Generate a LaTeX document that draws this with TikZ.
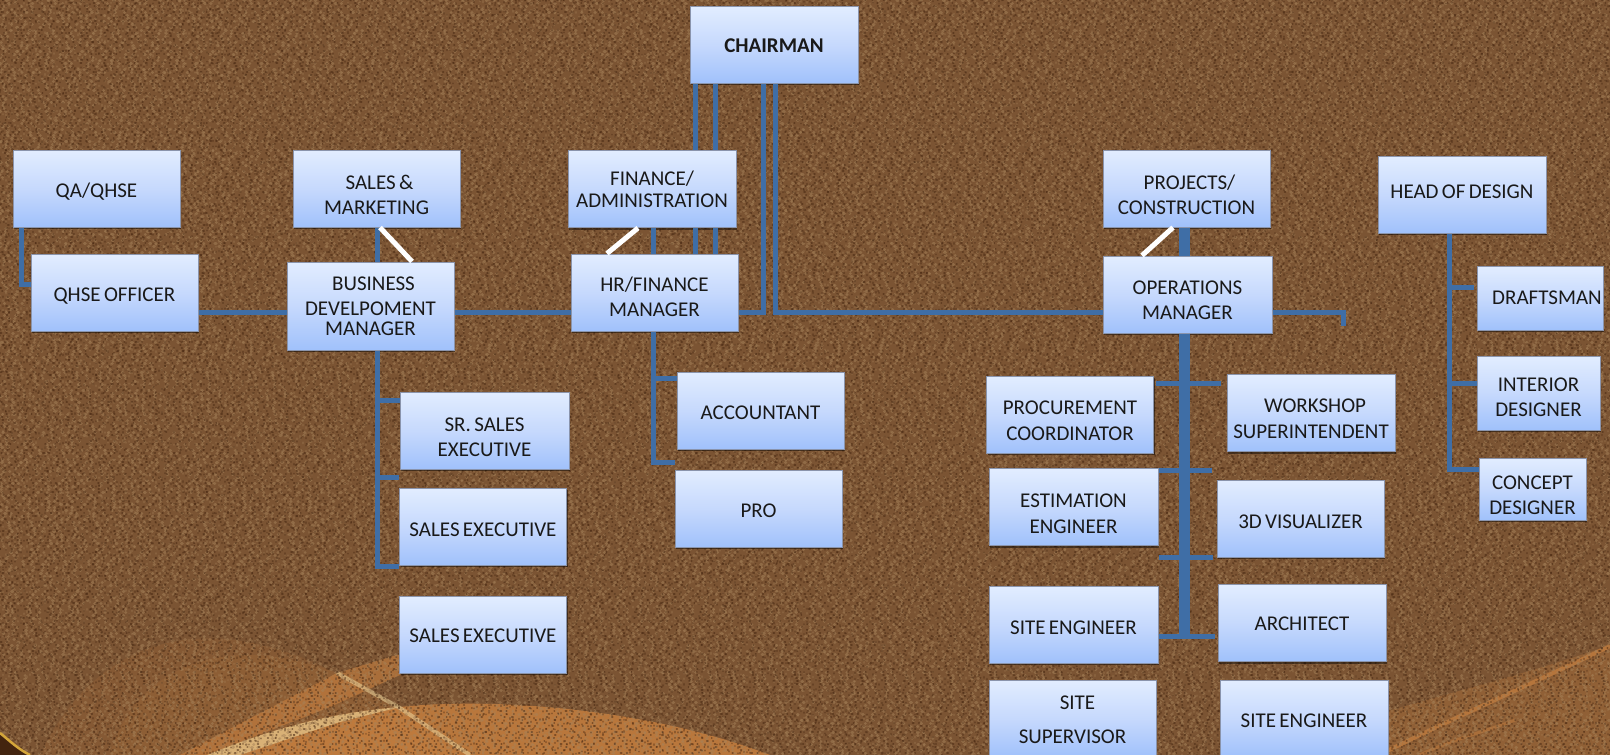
\documentclass[tikz,border=0pt]{standalone}
\usepackage{fontspec}
\setmainfont{Carlito}[WordSpace=0.7]
\usetikzlibrary{positioning,calc,shadows}
\definecolor{bgbrown}{HTML}{7B5433}
\definecolor{speckdark}{HTML}{43240F}
\definecolor{specklight}{HTML}{A68259}
\definecolor{waveorange}{HTML}{CF8440}
\definecolor{wavepale}{HTML}{E8CF96}
\definecolor{arcgold}{HTML}{D4A63A}
\definecolor{boxtop}{HTML}{E2EDFF}
\definecolor{boxmid}{HTML}{C6D9FD}
\definecolor{boxbot}{HTML}{A0C1FB}
\definecolor{boxedge}{HTML}{8A94AC}
\definecolor{linkblue}{HTML}{3F6EA6}
\newcommand{\orgfont}{\fontsize{21}{25}\selectfont}
\newcommand{\tdown}[1]{\rule{0pt}{#1pt}}
\tikzset{
  orgbox/.style={rectangle,draw=boxedge,line width=1pt,inner sep=0pt,align=center,
    minimum width=167pt,minimum height=77pt,font=\orgfont,text=black!90,
    top color=boxtop,bottom color=boxbot,middle color=boxmid,
    drop shadow={shadow xshift=1pt,shadow yshift=-2pt,fill=black,opacity=.45}},
  tup/.style={execute at begin node={\rule[-#1pt]{0pt}{1pt}}},
  link/.style={draw=linkblue,line width=5pt},
  mainlink/.style={draw=linkblue,line width=11pt},
  whitelink/.style={draw=white,line width=5pt},
  speck/.style={line cap=round,dash pattern=on 0.6pt off 7pt on 0.2pt off 11pt on 1.2pt off 5pt on 0.4pt off 17pt on 0.8pt off 9pt on 0.1pt off 13pt},
}
\begin{document}
\begin{tikzpicture}[x=1pt,y=-1pt]
    \useasboundingbox (0,0) rectangle (1610,755);
    \clip (0,0) rectangle (1610,755);

    % background
    \fill[bgbrown] (0,0) rectangle (1610,755);
    \fill[waveorange,opacity=.12] (40,755) .. controls (90,650) and (190,600) .. (337,673) -- (400,708) -- (460,755) -- cycle;
    \fill[waveorange,opacity=.12] (110,755) .. controls (130,680) and (210,625) .. (337,673) -- (400,708) -- (460,755) -- cycle;
    \fill[waveorange,opacity=.55] (180,755) -- (337,673) -- (400,654) -- (400,675) -- (330,707) -- (207,755) -- cycle;
    \fill[waveorange,opacity=.75] (207,755) .. controls (280,725) and (340,712) .. (400,707) .. controls (480,698) and (640,705) .. (770,755) -- cycle;
    \fill[wavepale,opacity=.65] (207,755) .. controls (280,725) and (340,712) .. (400,707) -- (340,722) .. controls (300,735) and (270,745) .. (240,755) -- cycle;
    \draw[wavepale,opacity=.6,line width=4pt] (337,673) -- (400,708) -- (470,755);
    \fill[waveorange,opacity=.25] (1385,712) .. controls (1460,690) and (1540,670) .. (1610,645) -- (1610,755) -- (1385,755) -- cycle;
    \draw[waveorange,opacity=.6,line width=4pt] (1385,752) .. controls (1460,715) and (1540,680) .. (1610,646);
    \draw[waveorange,opacity=.4,line width=3pt] (1420,755) .. controls (1450,740) and (1490,730) .. (1515,720);
    \pgfmathsetseed{42}
    \foreach \y in {0,3,...,754}{
      \pgfmathsetmacro{\pa}{150*rnd}
      \pgfmathsetmacro{\pb}{150*rnd}
      \draw[speck,specklight,opacity=.5,line width=3pt,dash phase=\pa pt] (0,\y) -- (1610,\y);
      \draw[speck,speckdark,opacity=.5,line width=1.8pt,dash phase=\pb pt] (0,\y) -- (1610,\y);
    }
    \foreach \x in {0,3,...,1609}{
      \pgfmathsetmacro{\pa}{150*rnd}
      \pgfmathsetmacro{\pb}{150*rnd}
      \draw[speck,specklight,opacity=.3,line width=2.4pt,dash phase=\pa pt] (\x,0) -- (\x,755);
      \draw[speck,speckdark,opacity=.35,line width=1.8pt,dash phase=\pb pt] (\x,0) -- (\x,755);
    }
    \fill[speckdark] (0,733) .. controls (10,740) and (20,748) .. (30,755) -- (0,755) -- cycle;
    \draw[arcgold,line width=2.5pt] (0,733) .. controls (10,741) and (18,749) .. (30,755);

    % top row
    \node[orgbox,minimum width=168pt] (CH) at (774,44.5) {\tdown{15.5}\textbf{CHAIRMAN}};
    \node[orgbox] (QA) at (96.5,188.5) {\tdown{20}QA/QHSE};
    \node[orgbox] (SM) at (376.5,188.5) {\tdown{27}\hspace*{6pt}SALES \&\\MARKETING};
    \node[orgbox,minimum width=168pt] (FA) at (652,189) {\tdown{16}FINANCE/\\[-3pt]ADMINISTRATION};
    \node[orgbox] (PR) at (1186.5,188.5) {\tdown{28}\hspace*{6pt}PROJECTS/\\CONSTRUCTION};
    \node[orgbox,tup=6,minimum width=168pt] (HD) at (1462,194.5) {HEAD OF DESIGN};

    % manager row
    \node[orgbox] (QH) at (114.5,292.5) {\tdown{20}QHSE OFFICER};
    \node[orgbox,minimum height=88pt] (BD) at (370.5,306) {\hspace*{6pt}BUSINESS\\DEVELPOMENT\\[-5pt]MANAGER};
    \node[orgbox] (HR) at (654.5,292.5) {\tdown{24}HR/FINANCE\\MANAGER};
    \node[orgbox,minimum width=169pt] (OP) at (1187.5,294.5) {\tdown{26}OPERATIONS\\MANAGER};

    % staff
    \node[orgbox,minimum width=169pt] (SS) at (484.5,430.5) {\tdown{27}SR. SALES\\EXECUTIVE};
    \node[orgbox] (SE1) at (483,526.5) {\tdown{20}SALES EXECUTIVE};
    \node[orgbox] (SE2) at (483,634.5) {\tdown{16}SALES EXECUTIVE};
    \node[orgbox] (AC) at (760.5,410.5) {\tdown{18}ACCOUNTANT};
    \node[orgbox] (PO) at (758.5,508.5) {\tdown{18}PRO};
    \node[orgbox] (PC) at (1070,414.5) {\tdown{26}PROCUREMENT\\[1pt]COORDINATOR};
    \node[orgbox,minimum width=168pt] (WS) at (1311,413) {\tdown{25}\hspace*{8pt}WORKSHOP\\[1pt]SUPERINTENDENT};
    \node[orgbox,minimum width=169pt] (ES) at (1073.5,507) {\tdown{28}ESTIMATION\\[1pt]ENGINEER};
    \node[orgbox] (VZ) at (1300.5,518.5) {\tdown{20}3D VISUALIZER};
    \node[orgbox,minimum width=169pt] (SE3) at (1073.5,624.5) {\tdown{20}SITE ENGINEER};
    \node[orgbox,minimum width=168pt] (AR) at (1302,623) {\tdown{16}ARCHITECT};
    \node[orgbox] (SV) at (1072.5,718.5) {\tdown{17}\hspace*{10pt}SITE\\[9pt]SUPERVISOR};
    \node[orgbox,minimum width=168pt] (SE4) at (1304,718.5) {\tdown{18}SITE ENGINEER};
    \node[orgbox,minimum width=126pt,minimum height=64pt] (DF) at (1540,298) {\hspace*{14pt}DRAFTSMAN};
    \node[orgbox,minimum width=123pt,minimum height=74pt] (ID) at (1538.5,393) {\tdown{23}INTERIOR\\DESIGNER};
    \node[orgbox,minimum width=107pt,minimum height=62pt] (CD) at (1532.5,489) {\tdown{27}CONCEPT\\DESIGNER};

    % guides for the connectors
    \coordinate (M) at (0,312);      % main horizontal
    \coordinate (XQ) at (21,0);
    \coordinate (XS) at (377,0);
    \coordinate (XH) at (653,0);
    \coordinate (XA) at (695,0);
    \coordinate (XB) at (715,0);
    \coordinate (XC) at (763,0);
    \coordinate (XD) at (775,0);
    \coordinate (XO) at (1184,0);
    \coordinate (XE) at (1343,0);
    \coordinate (XG) at (1449,0);
    \coordinate (T1) at (0,383);
    \coordinate (T2) at (0,470);
    \coordinate (T3) at (0,557);
    \coordinate (T4) at (0,636);

    % chairman down
    \draw[link] (XA |- CH.south) -- (XA |- FA.north);
    \draw[link] (XB |- CH.south) -- (XB |- FA.north);
    \draw[link] (XA |- FA.south) -- (XA |- HR.north);
    \draw[link] (XB |- FA.south) -- (XB |- HR.north);
    \draw[link] (XH |- FA.south) -- (XH |- HR.north);
    \draw[link] (HR.east |- M) -- (XC |- M) -- (XC |- CH.south);
    \draw[link] (XD |- CH.south) -- (XD |- M) -- (OP.west |- M);

    % main horizontal
    \draw[link] (QH.east |- M) -- (BD.west |- M);
    \draw[link] (BD.east |- M) -- (HR.west |- M);
    \coordinate (S1) at (1343,326);
    \draw[link] (OP.east |- M) -- (XE |- M) -- (S1);

    % qhse
    \coordinate (Y1) at (0,284);
    \draw[link] (XQ |- QA.south) -- (XQ |- Y1) -- (QH.west |- Y1);

    % sales
    \coordinate (Y2) at (0,400);
    \coordinate (Y3) at (0,477);
    \coordinate (Y4) at (0,566);
    \draw[link] (XS |- SM.south) -- (XS |- BD.north);
    \draw[link] (XS |- BD.south) -- (XS |- Y4) -- (SE1.west |- Y4);
    \draw[link] (XS |- Y2) -- (SS.west |- Y2);
    \draw[link] (XS |- Y3) -- (SE1.west |- Y3);

    % finance
    \coordinate (Y5) at (0,378);
    \coordinate (Y6) at (0,462);
    \draw[link] (XH |- HR.south) -- (XH |- Y6) -- (PO.west |- Y6);
    \draw[link] (XH |- Y5) -- (AC.west |- Y5);

    % operations
    \draw[mainlink] (XO |- PR.south) -- (XO |- OP.north);
    \draw[mainlink] (XO |- OP.south) -- (XO |- T4);
    \draw[link,shorten <=2pt,shorten >=6pt] (PC.east |- T1) -- (WS.west |- T1);
    \draw[link,shorten >=5pt] (ES.east |- T2) -- (VZ.west |- T2);
    \draw[link,shorten >=4pt] (ES.east |- T3) -- (VZ.west |- T3);
    \draw[link,shorten >=3pt] (SE3.east |- T4) -- (AR.west |- T4);

    % design
    \coordinate (Y7) at (0,287);
    \coordinate (Y8) at (0,383);
    \coordinate (Y9) at (0,469);
    \draw[link] (XG |- HD.south) -- (XG |- Y9) -- (CD.west |- Y9);
    \draw[link,shorten >=3pt] (XG |- Y7) -- (DF.west |- Y7);
    \draw[link] (XG |- Y8) -- (ID.west |- Y8);

    % white strokes
    \coordinate (W1) at (380,0);
    \coordinate (W2) at (412,0);
    \coordinate (W3) at (638,0);
    \coordinate (W4) at (607,0);
    \coordinate (W5) at (1173,0);
    \coordinate (W6) at (1142,0);
    \draw[whitelink] (W1 |- SM.south) -- (W2 |- BD.north);
    \draw[whitelink] (W3 |- FA.south) -- (W4 |- HR.north);
    \draw[whitelink] (W5 |- PR.south) -- (W6 |- OP.north);
\end{tikzpicture}
\end{document}
